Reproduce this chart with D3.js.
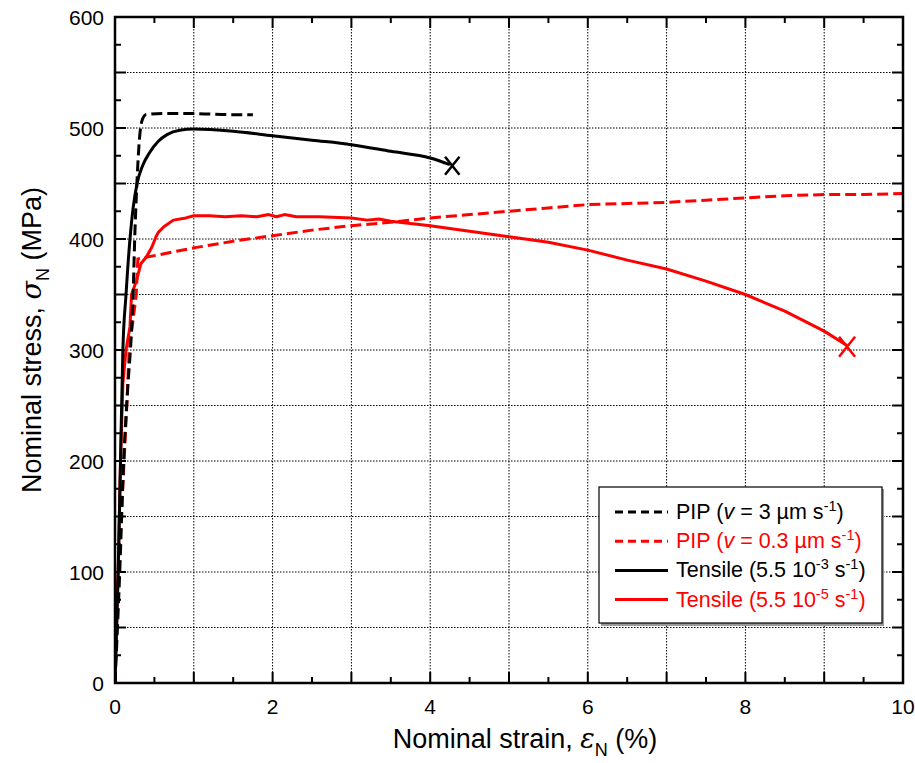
<!DOCTYPE html>
<html><head><meta charset="utf-8">
<script src="https://cdn.jsdelivr.net/npm/d3@7"></script>
<style>body{margin:0;background:#fff}svg{font-family:"Liberation Sans",Arial,sans-serif}</style>
</head><body><svg id="c" width="915" height="763"></svg>
<script>
// strain (%), stress (MPa)
const pipFast = [[0,0],[0.06,100],[0.11,200],[0.16,264],[0.21,318],[0.23,350],[0.25,400],[0.28,453],[0.31,490],[0.34,506],[0.39,512],[0.6,513],[1,513],[1.5,512],[1.75,512]];
const pipSlow = [[0,0],[0.03,80],[0.08,150],[0.15,250],[0.18,300],[0.27,350],[0.29,382],[0.5,385],[1,392],[1.5,398],[2,403],[2.5,408],[3,412],[3.5,415],[4,419],[4.5,422],[5,425],[5.5,428],[6,431],[6.5,432],[7,433],[7.5,435],[8,437],[8.5,439],[9,440],[9.5,440],[10,441]];
const tensFast = [[0,0],[0.04,100],[0.07,200],[0.1,300],[0.14,350],[0.19,400],[0.23,428],[0.28,450],[0.35,466],[0.44,478],[0.55,488],[0.66,494],[0.82,498],[1.0,499],[1.5,497],[2,493],[2.5,489],[3,485],[3.5,479],[4,473],[4.25,467]];
const tensSlow = [[0,0],[0.04,100],[0.07,200],[0.1,270],[0.14,300],[0.19,321],[0.21,350],[0.27,362],[0.33,378],[0.40,384],[0.47,393],[0.52,402],[0.55,406],[0.62,411],[0.74,417],[0.9,419],[1.0,421],[1.2,421],[1.4,420],[1.6,421],[1.8,420],[1.95,422],[2.05,420],[2.15,422],[2.3,420],[2.6,420],[3,419],[3.2,417],[3.35,418],[3.5,416],[4,412],[4.5,407],[5,402],[5.5,397],[6,390],[6.5,381],[7,373],[7.5,362],[8,350],[8.5,335],[9,317],[9.29,304]];
const failures = [{x:4.28,y:466,c:"#000",s:9},{x:9.29,y:303,c:"#ff0000",s:10}];
const xTickLabels = [0,2,4,6,8,10];
const yTickLabels = [0,100,200,300,400,500,600];
const legendItems = [
 {dash:true,c:"#000",parts:[["PIP ("],["v","it"],[" = 3 µm s"],["-1","sup"],[")"]]},
 {dash:true,c:"#ff0000",parts:[["PIP ("],["v","it"],[" = 0.3 µm s"],["-1","sup"],[")"]]},
 {dash:false,c:"#000",parts:[["Tensile (5.5 10"],["-3","sup"],[" s"],["-1","sup"],[")"]]},
 {dash:false,c:"#ff0000",parts:[["Tensile (5.5 10"],["-5","sup"],[" s"],["-1","sup"],[")"]]}
];

const svg = d3.select("#c");
const L=115,R=903,T=17,B=683;
const x = d3.scaleLinear().domain([0,10]).range([L,R]);
const y = d3.scaleLinear().domain([0,600]).range([B,T]);

// grid
const g = svg.append("g");
d3.range(1,10).forEach(v=>g.append("line").attr("x1",x(v)).attr("x2",x(v)).attr("y1",T).attr("y2",B)
  .attr("stroke","#000").attr("stroke-width",1).attr("stroke-dasharray","1.5,1.5"));
d3.range(50,600,50).forEach(v=>g.append("line").attr("x1",L).attr("x2",R).attr("y1",y(v)).attr("y2",y(v))
  .attr("stroke","#000").attr("stroke-width",1).attr("stroke-dasharray","1.5,1.5"));

// ticks (inward, all sides)
const tk = svg.append("g").attr("stroke","#000").attr("stroke-width",2);
d3.range(0,10.01,0.5).forEach(v=>{
  const len = (Math.abs(v-Math.round(v))<1e-6)?11:6;
  tk.append("line").attr("x1",x(v)).attr("x2",x(v)).attr("y1",B).attr("y2",B-len);
  tk.append("line").attr("x1",x(v)).attr("x2",x(v)).attr("y1",T).attr("y2",T+len);
});
d3.range(0,601,25).forEach(v=>{
  const len = (v%50===0)?11:6;
  tk.append("line").attr("y1",y(v)).attr("y2",y(v)).attr("x1",L).attr("x2",L+len);
  tk.append("line").attr("y1",y(v)).attr("y2",y(v)).attr("x1",R).attr("x2",R-len);
});

// curves
const line = d3.line().x(d=>x(d[0])).y(d=>y(d[1]));
const smooth = d3.line().x(d=>x(d[0])).y(d=>y(d[1])).curve(d3.curveMonotoneX);
svg.append("clipPath").attr("id","clp").append("rect").attr("x",L).attr("y",T).attr("width",R-L).attr("height",B-T);
const cg = svg.append("g").attr("clip-path","url(#clp)");
cg.append("path").datum(pipSlow).attr("d",line).attr("fill","none").attr("stroke","#ff0000").attr("stroke-width",3).attr("stroke-dasharray","11,5");
cg.append("path").datum(tensSlow).attr("d",line).attr("fill","none").attr("stroke","#ff0000").attr("stroke-width",3).attr("stroke-linejoin","round");
cg.append("path").datum(pipFast).attr("d",smooth).attr("fill","none").attr("stroke","#000").attr("stroke-width",3).attr("stroke-dasharray","11,5");
cg.append("path").datum(tensFast).attr("d",smooth).attr("fill","none").attr("stroke","#000").attr("stroke-width",3);

failures.forEach(f=>{
  const cx=x(f.x), cy=y(f.y), s=f.s;
  svg.append("path").attr("d",`M${cx-s*0.8},${cy-s}L${cx+s*0.8},${cy+s}M${cx+s*0.8},${cy-s}L${cx-s*0.8},${cy+s}`)
    .attr("stroke",f.c).attr("stroke-width",2.5).attr("fill","none");
});

// frame
svg.append("rect").attr("x",L).attr("y",T).attr("width",R-L).attr("height",B-T).attr("fill","none").attr("stroke","#000").attr("stroke-width",2.5);

// tick labels
xTickLabels.forEach(v=>svg.append("text").attr("x",x(v)).attr("y",B+31).attr("text-anchor","middle").attr("font-size",21).text(v));
yTickLabels.forEach(v=>svg.append("text").attr("x",L-11).attr("y",y(v)+7.5).attr("text-anchor","end").attr("font-size",21).text(v));

// axis titles
const xt = svg.append("text").attr("x",525).attr("y",748).attr("text-anchor","middle").attr("font-size",27);
xt.append("tspan").text("Nominal strain, ");
xt.append("tspan").attr("font-family","DejaVu Serif").attr("font-style","italic").text("ε");
xt.append("tspan").attr("font-size",18).attr("dy",8).text("N");
xt.append("tspan").attr("dy",-8).text(" (%)");
const yt = svg.append("text").attr("transform","translate(41,340) rotate(-90)").attr("text-anchor","middle").attr("font-size",27);
yt.append("tspan").text("Nominal stress, ");
yt.append("tspan").attr("font-family","DejaVu Serif").attr("font-style","italic").text("σ");
yt.append("tspan").attr("font-size",18).attr("dy",8).text("N");
yt.append("tspan").attr("dy",-8).text(" (MPa)");

// legend
const lg = svg.append("g");
lg.append("rect").attr("x",601).attr("y",489).attr("width",283).attr("height",137).attr("fill","#999");
lg.append("rect").attr("x",599).attr("y",487).attr("width",283).attr("height",136).attr("fill","#fff").attr("stroke","#000").attr("stroke-width",1.2);
legendItems.forEach((it,i)=>{
  const yy = 512 + i*29.2;
  lg.append("line").attr("x1",615).attr("x2",668).attr("y1",yy).attr("y2",yy).attr("stroke",it.c).attr("stroke-width",3)
    .attr("stroke-dasharray",it.dash?"8,5":null);
  const t = lg.append("text").attr("x",676).attr("y",yy+7).attr("font-size",21.5).attr("fill",it.c);
  let raised=false;
  it.parts.forEach(p=>{
    const s=t.append("tspan").text(p[0]);
    if(p[1]==="it"){ s.attr("font-style","italic"); if(raised){s.attr("dy",8);raised=false;} }
    else if(p[1]==="sup"){ s.attr("font-size",14.5); if(!raised){s.attr("dy",-8);raised=true;} }
    else if(raised){ s.attr("dy",8); raised=false; }
  });
});
</script></body></html>
